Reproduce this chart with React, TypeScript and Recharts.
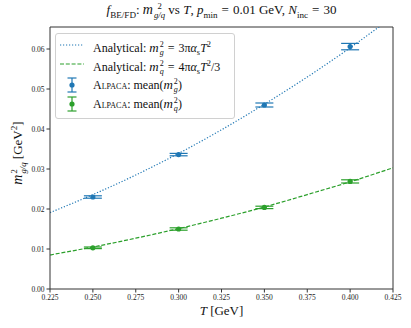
import { ComposedChart, Line, Scatter, ErrorBar, XAxis, YAxis, ReferenceLine } from 'recharts';

const temps = [0.225, 0.25, 0.275, 0.3, 0.325, 0.35, 0.375, 0.4, 0.425];
const gluonCurve = [0.0191, 0.0236, 0.0285, 0.0339, 0.0398, 0.0462, 0.053, 0.0603, 0.0681];
const quarkCurve = [0.0085, 0.0105, 0.0127, 0.0151, 0.0177, 0.0205, 0.0236, 0.0268, 0.0303];

const sampleTemps = [0.25, 0.3, 0.35, 0.4];
const gluonMean = [0.023, 0.0336, 0.046, 0.0606];
const gluonErr = [0.0003, 0.0003, 0.0005, 0.0008];
const quarkMean = [0.0103, 0.015, 0.0204, 0.0269];
const quarkErr = [0.0002, 0.0003, 0.0003, 0.0004];

const xTicks = [0.225, 0.25, 0.275, 0.3, 0.325, 0.35, 0.375, 0.4, 0.425];
const yTicks = [0, 0.01, 0.02, 0.03, 0.04, 0.05, 0.06];

const BLUE = '#1f77b4';
const GREEN = '#2ca02c';
const FONT = '"Liberation Serif", "DejaVu Serif", serif';

const gluonLine = temps.map((t, i) => ({ T: t, y: gluonCurve[i] }));
const quarkLine = temps.map((t, i) => ({ T: t, y: quarkCurve[i] }));
const gluonPts = sampleTemps.map((t, i) => ({ T: t, y: gluonMean[i], err: gluonErr[i] }));
const quarkPts = sampleTemps.map((t, i) => ({ T: t, y: quarkMean[i], err: quarkErr[i] }));

const dot = (color: string) => (p: any) => <circle cx={p.cx} cy={p.cy} r={2.6} fill={color} />;

// m with stacked super/subscript
function M({ sub }: { sub: string }) {
  return (
    <span style={{ whiteSpace: 'nowrap', fontSize: '1.08em' }}>
      <i>m</i>
      <span style={{ display: 'inline-flex', flexDirection: 'column', verticalAlign: 'middle', fontSize: '0.62em', lineHeight: '1em', marginLeft: 1 }}>
        <span>2</span>
        <i>{sub}</i>
      </span>
    </span>
  );
}

const Eq = () => <span style={{ margin: '0 4px' }}>=</span>;
const Sub = ({ c }: { c: string }) => <sub style={{ fontSize: '0.7em' }}>{c}</sub>;
const Sup = ({ c }: { c: string }) => <sup style={{ fontSize: '0.7em' }}>{c}</sup>;

function LineIcon({ color, dash }: { color: string; dash: string }) {
  return (
    <svg width={24} height={8} style={{ position: 'absolute', left: 4, top: -4 }}>
      <line x1={0} y1={4} x2={24} y2={4} stroke={color} strokeWidth={1.2} strokeDasharray={dash} />
    </svg>
  );
}

function ErrIcon({ color }: { color: string }) {
  return (
    <svg width={12} height={18} style={{ position: 'absolute', left: 10, top: -9 }}>
      <line x1={6} y1={2} x2={6} y2={16} stroke={color} strokeWidth={1.2} />
      <line x1={1.5} y1={2} x2={10.5} y2={2} stroke={color} strokeWidth={1.2} />
      <line x1={1.5} y1={16} x2={10.5} y2={16} stroke={color} strokeWidth={1.2} />
      <circle cx={6} cy={9} r={2.6} fill={color} />
    </svg>
  );
}

function Row({ top, icon, children }: { top: number; icon: any; children: any }) {
  return (
    <div style={{ position: 'absolute', left: 0, top, width: '100%' }}>
      {icon}
      <div style={{ position: 'absolute', left: 37, top: -10, fontSize: 12, lineHeight: '20px', whiteSpace: 'nowrap' }}>
        {children}
      </div>
    </div>
  );
}

export default function App() {
  return (
    <div style={{ position: 'absolute', left: 0, top: 0, width: 411, height: 328, background: '#fff', fontFamily: FONT, color: '#111' }}>
      <ComposedChart width={411} height={328} margin={{ top: 27, right: 18, left: 0, bottom: 0 }}>
        <XAxis
          dataKey="T"
          type="number"
          domain={[0.225, 0.425]}
          ticks={xTicks}
          allowDataOverflow
          height={39}
          tickSize={3.5}
          tickFormatter={(v: number) => v.toFixed(3)}
          tick={{ fontSize: 7.5, fill: '#222', fontFamily: FONT }}
          stroke="#333"
        />
        <YAxis
          type="number"
          domain={[0, 0.0655]}
          ticks={yTicks}
          allowDataOverflow
          width={50}
          tickSize={3.5}
          tickFormatter={(v: number) => v.toFixed(2)}
          tick={{ fontSize: 7.5, fill: '#222', fontFamily: FONT }}
          stroke="#333"
        />
        <ReferenceLine x={0.425} stroke="#333" />
        <ReferenceLine y={0.0655} stroke="#333" />
        <Line data={gluonLine} dataKey="y" type="monotone" stroke={BLUE} strokeWidth={1.2} strokeDasharray="1.2 1.8" dot={false} isAnimationActive={false} />
        <Line data={quarkLine} dataKey="y" type="monotone" stroke={GREEN} strokeWidth={1.2} strokeDasharray="4 1.8" dot={false} isAnimationActive={false} />
        <Scatter data={gluonPts} dataKey="y" fill={BLUE} shape={dot(BLUE)} isAnimationActive={false}>
          <ErrorBar dataKey="err" direction="y" width={9} stroke={BLUE} strokeWidth={1.2} />
        </Scatter>
        <Scatter data={quarkPts} dataKey="y" fill={GREEN} shape={dot(GREEN)} isAnimationActive={false}>
          <ErrorBar dataKey="err" direction="y" width={9} stroke={GREEN} strokeWidth={1.2} />
        </Scatter>
      </ComposedChart>

      <div style={{ position: 'absolute', left: 50, top: 1, width: 343, textAlign: 'center', fontSize: 13, whiteSpace: 'nowrap' }}>
        <i>f</i><Sub c="BE/FD" />: <M sub="g/q" /> vs <i>T</i>, <i>p</i><Sub c="min" /><Eq />0.01 GeV, <i>N</i><Sub c="inc" /><Eq />30
      </div>

      <div style={{ position: 'absolute', left: 50, top: 303, width: 343, textAlign: 'center', fontSize: 13 }}>
        <i>T</i> [GeV]
      </div>

      <div style={{ position: 'absolute', left: 18, top: 153, width: 0, height: 0 }}>
        <div style={{ position: 'absolute', transform: 'translate(-50%, -50%) rotate(-90deg)', fontSize: 13, whiteSpace: 'nowrap' }}>
          <M sub="g/q" /> [GeV<Sup c="2" />]
        </div>
      </div>

      <div style={{ position: 'absolute', left: 55, top: 33, width: 178, height: 84, border: '1px solid #d0d0d0', borderRadius: 3, background: 'rgba(255,255,255,0.85)' }}>
        <Row top={11} icon={<LineIcon color={BLUE} dash="1.2 1.8" />}>
          Analytical: <M sub="g" /><Eq />3π<i>α</i><Sub c="s" /><i>T</i><Sup c="2" />
        </Row>
        <Row top={30} icon={<LineIcon color={GREEN} dash="4 1.8" />}>
          Analytical: <M sub="q" /><Eq />4π<i>α</i><Sub c="s" /><i>T</i><Sup c="2" />/3
        </Row>
        <Row top={51} icon={<ErrIcon color={BLUE} />}>
          <span style={{ fontVariant: 'small-caps' }}>Alpaca</span>: mean(<M sub="g" />)
        </Row>
        <Row top={70} icon={<ErrIcon color={GREEN} />}>
          <span style={{ fontVariant: 'small-caps' }}>Alpaca</span>: mean(<M sub="q" />)
        </Row>
      </div>
    </div>
  );
}
